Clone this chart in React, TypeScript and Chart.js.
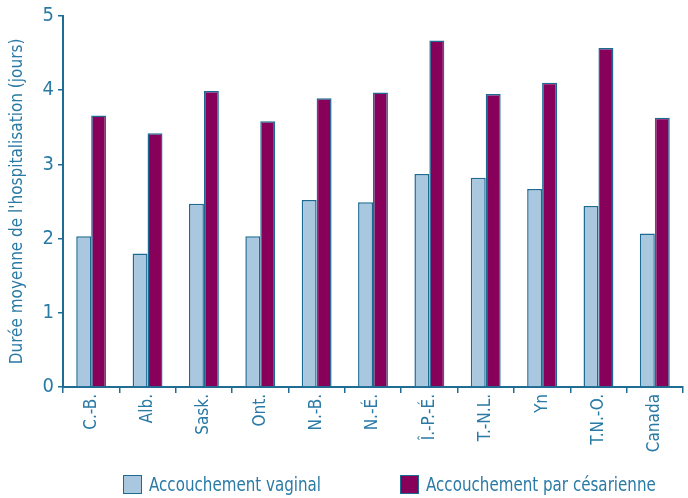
import React, { useEffect, useRef } from "react";
import { Chart, registerables } from "chart.js";

Chart.register(...registerables);

const categories = ["C.-B.", "Alb.", "Sask.", "Ont.", "N.-B.", "N.-É.", "Î.-P.-É.", "T.-N.L.", "Yn", "T.N.-O.", "Canada"];
const vaginal = [2.03, 1.8, 2.47, 2.03, 2.52, 2.49, 2.87, 2.82, 2.67, 2.44, 2.07];
const cesarean = [3.66, 3.42, 3.99, 3.58, 3.89, 3.97, 4.67, 3.95, 4.1, 4.57, 3.63];
const seriesLabels = ["Accouchement vaginal", "Accouchement par césarienne"];
const yTitle = "Durée moyenne de l'hospitalisation (jours)";

const FONT = "'DejaVu Sans Condensed', 'Liberation Sans Narrow', sans-serif";
const TEXT = "#2a7aa6";
const AXIS = "#1f6c94";
const COLORS = ["#a9c7de", "#87005a"];
const BORDER = "#1d6a93";

export default function App() {
  const ref = useRef<HTMLCanvasElement>(null);
  useEffect(() => {
    if (!ref.current) return;
    const chart = new Chart(ref.current, {
      type: "bar",
      data: {
        labels: categories,
        datasets: [
          { label: seriesLabels[0], data: vaginal, backgroundColor: COLORS[0], borderColor: BORDER, borderWidth: 1.5, categoryPercentage: 0.53, barPercentage: 1 },
          { label: seriesLabels[1], data: cesarean, backgroundColor: COLORS[1], borderColor: BORDER, borderWidth: 1.5, categoryPercentage: 0.53, barPercentage: 1 },
        ],
      },
      options: {
        animation: false,
        responsive: false,
        maintainAspectRatio: false,
        layout: { padding: { top: 15, right: 5, left: 7, bottom: 0 } },
        plugins: { legend: { display: false }, tooltip: { enabled: false } },
        scales: {
          x: {
            grid: { display: true, drawOnChartArea: false, drawTicks: true, tickLength: 6, color: AXIS, lineWidth: 1.5, offset: true },
            border: { display: true, color: AXIS, width: 2 },
            ticks: { color: TEXT, font: { family: FONT, size: 17 }, minRotation: 90, maxRotation: 90, autoSkip: false, padding: 1 },
            afterFit: (s: any) => { s.height = 111; },
          },
          y: {
            min: 0,
            max: 5,
            grid: { display: true, drawOnChartArea: false, drawTicks: true, tickLength: 5, color: AXIS, lineWidth: 1.5 },
            border: { display: true, color: AXIS, width: 2 },
            ticks: { stepSize: 1, color: TEXT, font: { family: FONT, size: 20 }, padding: 4 },
            title: { display: true, text: yTitle, color: TEXT, font: { family: FONT, size: 17 }, padding: { top: 0, bottom: 4 } },
            afterFit: (s: any) => { s.width = 56; },
          },
        },
      },
    });
    return () => chart.destroy();
  }, []);

  return (
    <div style={{ position: "fixed", left: 0, top: 0, width: 688, height: 498, background: "#fff" }}>
      <canvas ref={ref} width={688} height={498} style={{ display: "block" }} />
      {seriesLabels.map((lab, i) => (
        <div
          key={lab}
          style={{
            position: "absolute",
            left: i === 0 ? 123 : 400,
            top: 472,
            display: "flex",
            alignItems: "center",
            fontFamily: FONT,
            fontSize: 20,
            color: TEXT,
            whiteSpace: "nowrap",
          }}
        >
          <span style={{ display: "inline-block", width: 17, height: 17, background: COLORS[i], border: `1.5px solid ${BORDER}`, marginRight: 7 }} />
          <span style={{ display: "inline-block", transform: "scaleX(0.84)", transformOrigin: "left center" }}>{lab}</span>
        </div>
      ))}
    </div>
  );
}
